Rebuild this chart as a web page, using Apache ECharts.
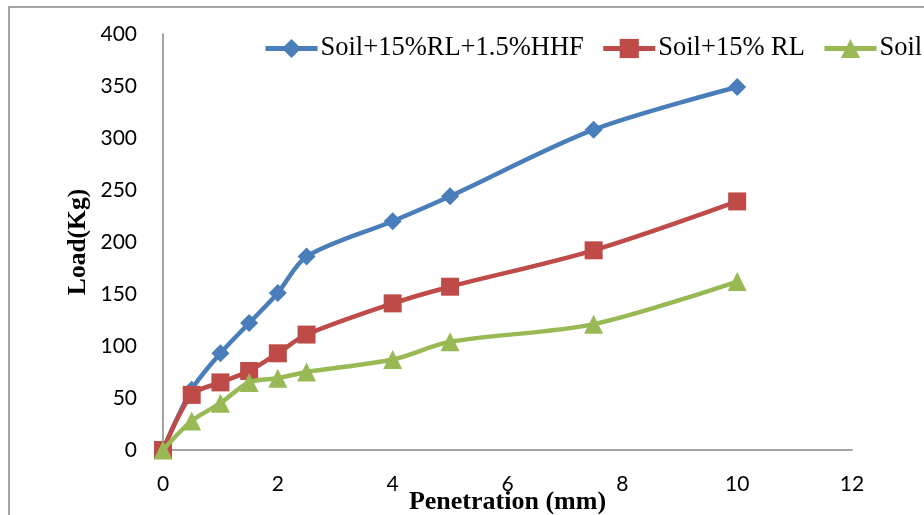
<!DOCTYPE html>
<html>
<head>
<meta charset="utf-8">
<script src="https://cdn.jsdelivr.net/npm/echarts@6/dist/echarts.min.js"></script>
<style>
html,body{margin:0;padding:0;background:#fff;}
#chart{width:924px;height:515px;}
</style>
</head>
<body>
<div id="chart"></div>
<script>
// Data
const penetration = [0, 0.5, 1, 1.5, 2, 2.5, 4, 5, 7.5, 10];
const loadHHF = [0, 58, 93, 122, 151, 186, 220, 244, 308, 349];
const loadRL = [0, 53, 65, 76, 93, 111, 141, 157, 192, 239];
const loadSoil = [0, 28, 45, 65, 69, 75, 87, 104, 121, 162];
const seriesNames = ['Soil+15%RL+1.5%HHF', 'Soil+15% RL', 'Soil'];
const xTicks = {min: 0, max: 12, interval: 2};
const yTicks = {min: 0, max: 400, interval: 50};

const pair = (xs, ys) => xs.map((x, i) => [x, ys[i]]);

const chart = echarts.init(document.getElementById('chart'), null, {renderer: 'canvas'});
const serifFont = '"Liberation Serif", "Times New Roman", serif';
const tickFont = 'Lato, "Open Sans", sans-serif';

chart.setOption({
  backgroundColor: '#ffffff',
  animation: false,
  graphic: [{
    type: 'rect',
    shape: {x: 9, y: 7, width: 1000, height: 600},
    style: {fill: 'none', stroke: '#888888', lineWidth: 1.5},
    silent: true, z: -1
  }],
  legend: {
    left: 263, top: 35, width: 900, padding: 0,
    orient: 'horizontal',
    itemWidth: 52, itemHeight: 24, itemGap: 17,
    lineStyle: {width: 5},
    textStyle: {fontFamily: serifFont, fontSize: 26.5, color: '#000', padding: [0,0,0,-2]},
    data: seriesNames
  },
  grid: {left: 163, right: 72, top: 34, bottom: 65, containLabel: false, outerBoundsMode: 'none'},
  xAxis: {
    type: 'value', min: xTicks.min, max: xTicks.max, interval: xTicks.interval,
    name: 'Penetration (mm)', nameLocation: 'middle', nameGap: 39, nameMoveOverlap: false,
    nameTextStyle: {fontFamily: serifFont, fontSize: 26, fontWeight: 'bold', color: '#000'},
    axisLine: {show: true, lineStyle: {color: '#868686', width: 1.5}},
    axisTick: {show: false},
    splitLine: {show: false},
    axisLabel: {fontFamily: tickFont, fontSize: 21, color: '#000', margin: 24}
  },
  yAxis: {
    type: 'value', min: yTicks.min, max: yTicks.max, interval: yTicks.interval,
    name: 'Load(Kg)', nameLocation: 'middle', nameGap: 72, nameMoveOverlap: false,
    nameTextStyle: {fontFamily: serifFont, fontSize: 25.5, fontWeight: 'bold', color: '#000'},
    axisLine: {show: true, lineStyle: {color: '#868686', width: 1.5}},
    axisTick: {show: false},
    splitLine: {show: false},
    axisLabel: {fontFamily: tickFont, fontSize: 21, color: '#000', margin: 26}
  },
  series: [
    {
      name: seriesNames[0], type: 'line', data: pair(penetration, loadHHF),
      smooth: 0.3, symbol: 'diamond', symbolSize: 18,
      lineStyle: {color: '#4A7EBB', width: 4.5},
      itemStyle: {color: '#4A7EBB'}, z: 2
    },
    {
      name: seriesNames[1], type: 'line', data: pair(penetration, loadRL),
      smooth: 0.3, symbol: 'rect', symbolSize: 18,
      lineStyle: {color: '#BE4B48', width: 4.5},
      itemStyle: {color: '#BE4B48'}, z: 3
    },
    {
      name: seriesNames[2], type: 'line', data: pair(penetration, loadSoil),
      smooth: 0.3, symbol: 'triangle', symbolSize: 19,
      lineStyle: {color: '#98B954', width: 4.5},
      itemStyle: {color: '#98B954'}, z: 4
    }
  ]
});
</script>
</body>
</html>
